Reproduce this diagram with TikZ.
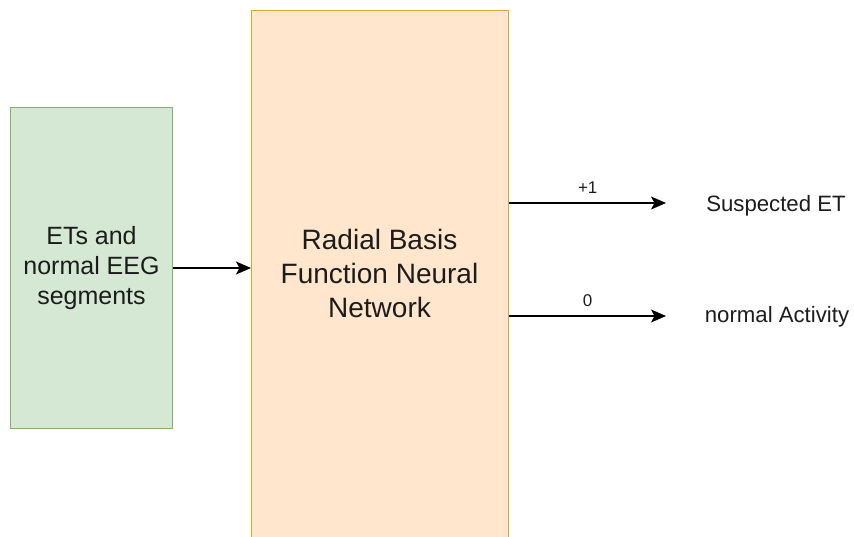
\documentclass[tikz,border=0pt]{standalone}
\usepackage{fontspec}
\setmainfont{Liberation Sans}
\usetikzlibrary{arrows.meta}

\definecolor{greenfill}{HTML}{D5E8D4}
\definecolor{greenline}{HTML}{82B366}
\definecolor{orangefill}{HTML}{FFE6CC}
\definecolor{orangeline}{HTML}{D6A630}
\definecolor{ink}{RGB}{28,28,28}

\tikzset{
  inbox/.style={draw=greenline, fill=greenfill, line width=1pt,
    minimum width=162pt, minimum height=321pt, anchor=north west,
    align=center, text=ink, font=\fontsize{25}{30}\selectfont},
  netbox/.style={draw=orangeline, fill=orangefill, line width=1.4pt,
    minimum width=257pt, minimum height=560pt, anchor=north west},
  nettext/.style={align=center, text=ink, font=\fontsize{28}{34}\selectfont},
  outtext/.style={anchor=base, text=ink, inner sep=0pt,
    font=\fontsize{22.2}{26}\selectfont},
  edgetext/.style={above=9pt, inner sep=0pt, text=ink,
    font=\fontsize{17}{20}\selectfont},
  arr/.style={draw=black, line width=1.3pt,
    -{Stealth[length=15pt, width=13pt, inset=3.5pt]}}
}

\begin{document}
\begin{tikzpicture}[x=1pt, y=-1pt]
  \useasboundingbox (0,0) rectangle (854,537);
  \clip (0,0) rectangle (854,537);

  % input data block
  \node[inbox] (src) at (10,107) {ETs and\\normal EEG\\segments};

  % classifier block (runs past the lower edge)
  \node[netbox] (rbf) at (251,10) {};
  \node[nettext] (rbftext) at (379.5,273) {Radial Basis\\Function Neural\\Network};

  % outputs
  \node[outtext] (out1) at (776,212) {Suspected ET};
  \node[outtext] (out2) at (777,323) {normal Activity};
  \coordinate (tip1) at (666,203);
  \coordinate (tip2) at (666,316);

  % connectors
  \draw[arr] (src.east) -- (rbf.west |- src.east);
  \draw[arr] (rbf.east |- tip1) -- (tip1) node[midway, edgetext] {+1};
  \draw[arr] (rbf.east |- tip2) -- (tip2) node[midway, edgetext] {0};
\end{tikzpicture}
\end{document}
